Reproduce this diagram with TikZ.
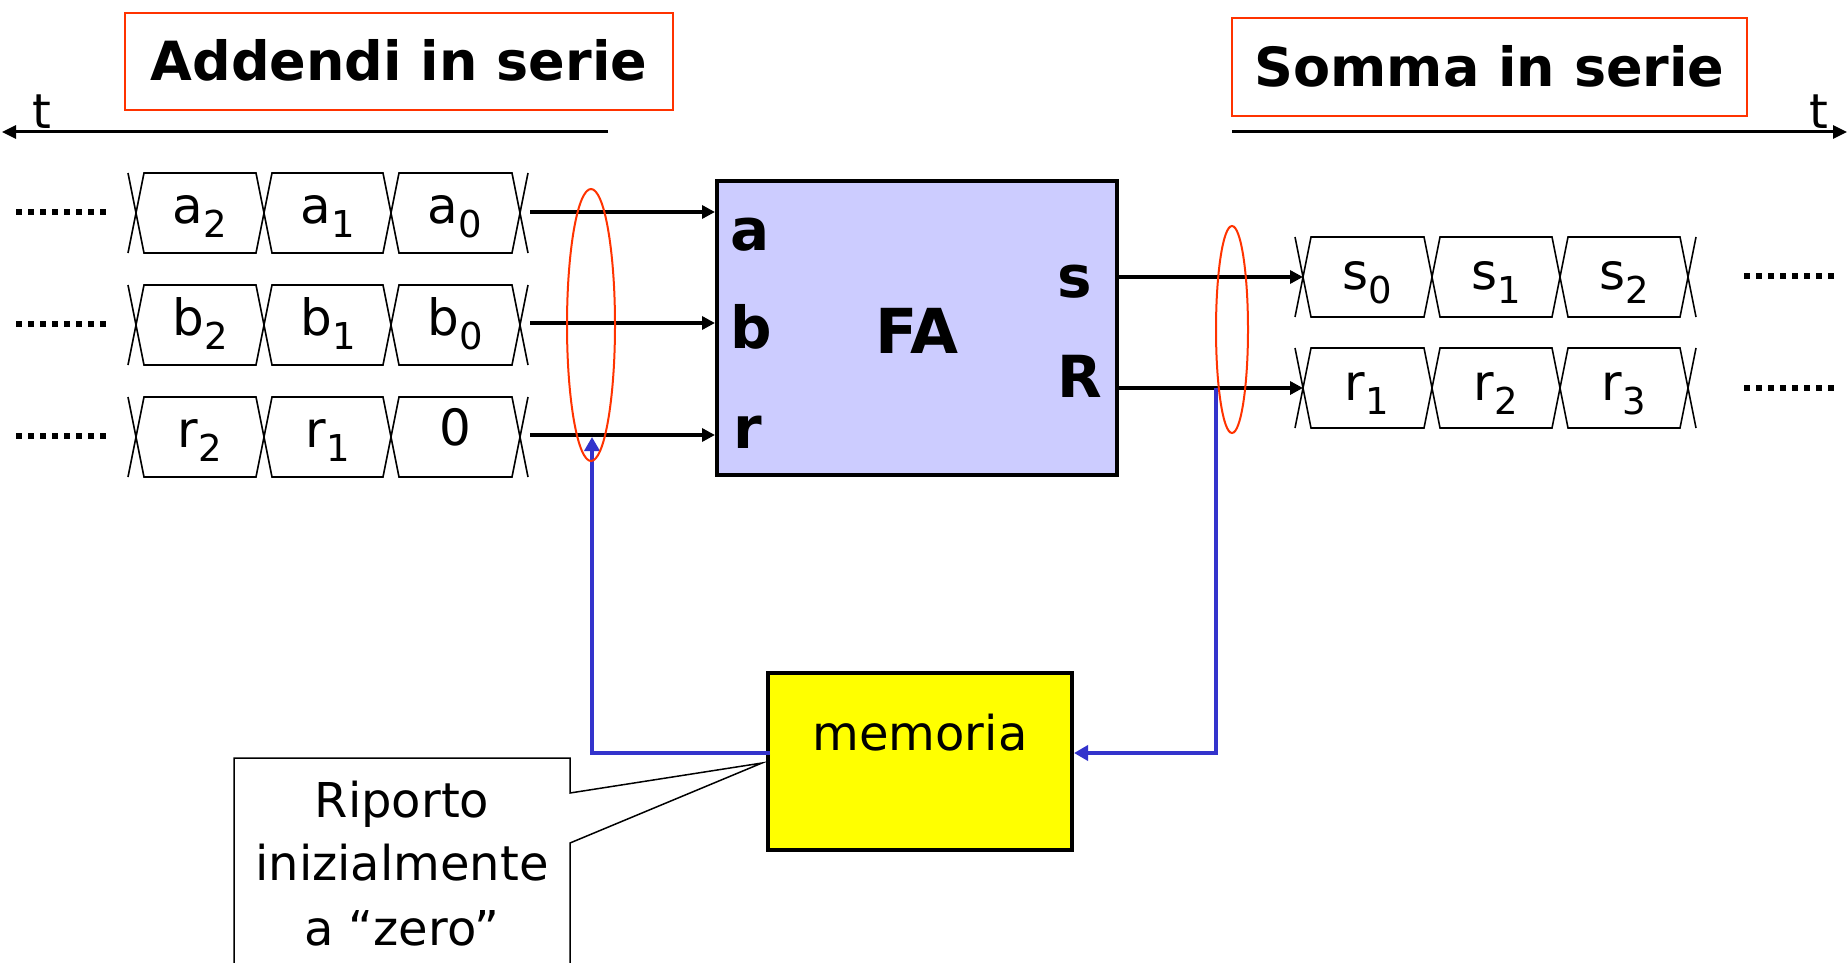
\documentclass[tikz,border=0pt]{standalone}
\usepackage{fontspec}
\setmainfont{DejaVu Sans}
\usetikzlibrary{arrows.meta,shapes.geometric}
\definecolor{boxred}{HTML}{FF3300}
\definecolor{falav}{HTML}{CCCCFF}
\definecolor{fbblue}{HTML}{3333CC}
\definecolor{memyellow}{HTML}{FFFF00}
\newcommand{\fsz}[1]{\fontsize{#1}{#1}\selectfont}
\newcommand{\bsub}[1]{\raisebox{-14pt}{\fsz{37}#1}}
% bus row: y centre, four crossing x positions
\newcommand{\busrow}[5]{%
  \draw[buswire] (#2-8,#1-40) -- (#2,#1) -- (#2-8,#1+40);
  \draw[buswire] (#2,#1) -- (#2+8,#1-40) -- (#3-8,#1-40) -- (#3,#1) -- (#3-8,#1+40) -- (#2+8,#1+40) -- cycle;
  \draw[buswire] (#3,#1) -- (#3+8,#1-40) -- (#4-8,#1-40) -- (#4,#1) -- (#4-8,#1+40) -- (#3+8,#1+40) -- cycle;
  \draw[buswire] (#4,#1) -- (#4+8,#1-40) -- (#5-8,#1-40) -- (#5,#1) -- (#5-8,#1+40) -- (#4+8,#1+40) -- cycle;
  \draw[buswire] (#5+8,#1-40) -- (#5,#1) -- (#5+8,#1+40);
}
\tikzset{
  titlebox/.style={draw=boxred, line width=2pt, font=\fsz{54}\bfseries, text height=39pt, text depth=0pt, inner sep=0pt},
  celltext/.style={font=\fsz{50}, anchor=base, inner sep=0pt},
  portlabel/.style={font=\fsz{58}\bfseries, anchor=base, inner sep=0pt},
  plaintext/.style={font=\fsz{48}, anchor=base, inner sep=0pt},
  buswire/.style={line width=1.6pt, line join=miter},
  dotrow/.style={line width=6pt, dash pattern=on 6pt off 6pt},
  sig/.style={line width=3.5pt, -{Triangle[length=13pt,width=13pt]}},
  axisline/.style={line width=3pt, -{Triangle[length=14pt,width=13pt]}},
  fbline/.style={draw=fbblue, line width=4pt, -{Triangle[length=14pt,width=15pt]}},
  groupell/.style={ellipse, draw=boxred, line width=2pt, inner sep=0pt},
  fabox/.style={draw, fill=falav, line width=4pt, inner sep=0pt, minimum width=400pt, minimum height=294pt},
  membox/.style={draw, fill=memyellow, line width=4pt, inner sep=0pt, minimum width=304pt, minimum height=177pt},
  callout/.style={draw, line width=1.5pt, line join=miter}
}
\begin{document}
\begin{tikzpicture}[x=1pt,y=-1pt]
\clip (0,0) rectangle (1847,963);
\fill[white] (0,0) rectangle (1847,963);

% titles
\node[titlebox, minimum width=548pt, minimum height=97pt] (t1) at (399,61.5) {Addendi in serie};
\node[titlebox, minimum width=515pt, minimum height=98pt] (t2) at (1489.5,67) {Somma in serie};

% time axes
\coordinate (axLs) at (608,132);
\coordinate (axLe) at (2,132);
\coordinate (axRs) at (1232,132);
\coordinate (axRe) at (1847,132);
\draw[axisline] (axLs) -- (axLe);
\draw[axisline] (axRs) -- (axRe);
\node[plaintext, anchor=base] (tl) at (42,129) {t};
\node[plaintext, anchor=base] (tr) at (1819,129) {t};

% input bus rows
\busrow{213}{136}{264}{391}{520}
\busrow{325}{136}{264}{391}{520}
\busrow{437}{136}{264}{391}{520}
\draw[dotrow] (16,212) -- (106,212);
\draw[dotrow] (16,324) -- (106,324);
\draw[dotrow] (16,436) -- (106,436);

\node[celltext] (a2) at (200,223) {a\bsub{2}};
\node[celltext] (a1) at (328,223) {a\bsub{1}};
\node[celltext] (a0) at (455,223) {a\bsub{0}};
\node[celltext] (b2) at (200,335) {b\bsub{2}};
\node[celltext] (b1) at (328,335) {b\bsub{1}};
\node[celltext] (b0) at (455,335) {b\bsub{0}};
\node[celltext] (r2) at (200,447) {r\bsub{2}};
\node[celltext] (r1) at (328,447) {r\bsub{1}};
\node[celltext] (z0) at (455,445) {0};

% output bus rows
\busrow{277}{1303}{1432}{1560}{1688}
\busrow{388}{1303}{1432}{1560}{1688}
\draw[dotrow] (1744,276) -- (1834,276);
\draw[dotrow] (1744,388) -- (1834,388);

\node[celltext] (s0) at (1367,289) {s\bsub{0}};
\node[celltext] (s1) at (1496,289) {s\bsub{1}};
\node[celltext] (s2) at (1624,289) {s\bsub{2}};
\node[celltext] (ro1) at (1367,400) {r\bsub{1}};
\node[celltext] (ro2) at (1496,400) {r\bsub{2}};
\node[celltext] (ro3) at (1624,400) {r\bsub{3}};

% full adder
\node[fabox] (fa) at (917,328) {};
\node[portlabel] (pa) at (750,250) {a};
\node[portlabel] (pb) at (751,348) {b};
\node[portlabel] (pr) at (748,448) {r};
\node[portlabel] (ps) at (1075,297) {s};
\node[portlabel] (pR) at (1080,397) {R};
\node[portlabel, font=\fsz{62}\bfseries] (fat) at (917,353) {FA};

% memory
\node[membox] (mem) at (920,761.5) {};
\node[plaintext] (memt) at (920,750) {memoria};

% input signals
\coordinate (ain) at (530,212);
\coordinate (bin) at (530,323);
\coordinate (rin) at (530,435);
\draw[sig] (ain) -- (ain -| fa.west);
\draw[sig] (bin) -- (bin -| fa.west);
\draw[sig] (rin) -- (rin -| fa.west);

% output signals
\coordinate (sout) at (1303,277);
\coordinate (Rout) at (1303,388);
\draw[sig] (sout -| fa.east) -- (sout);
\draw[sig] (Rout -| fa.east) -- (Rout);

% feedback
\coordinate (memw) at (770,753);
\coordinate (rjoin) at (592,437);
\coordinate (Rtap) at (1216,388);
\draw[fbline] (memw) -| (rjoin);
\draw[fbline] (Rtap) |- (mem.east |- memw);

% grouping ellipses
\node[groupell, minimum width=48pt, minimum height=272pt] (e1) at (591,325) {};
\node[groupell, minimum width=32pt, minimum height=207pt] (e2) at (1232,329.5) {};

% callout
\draw[callout, fill=white] (234,975) -- (234,758) -- (570,758) -- (570,793) -- (762,763) -- (570,843) -- (570,975);
\node[plaintext] (c1) at (402,817) {Riporto};
\node[plaintext] (c2) at (402,880) {inizialmente};
\node[plaintext] (c3) at (402,945) {a “zero”};
\end{tikzpicture}
\end{document}
